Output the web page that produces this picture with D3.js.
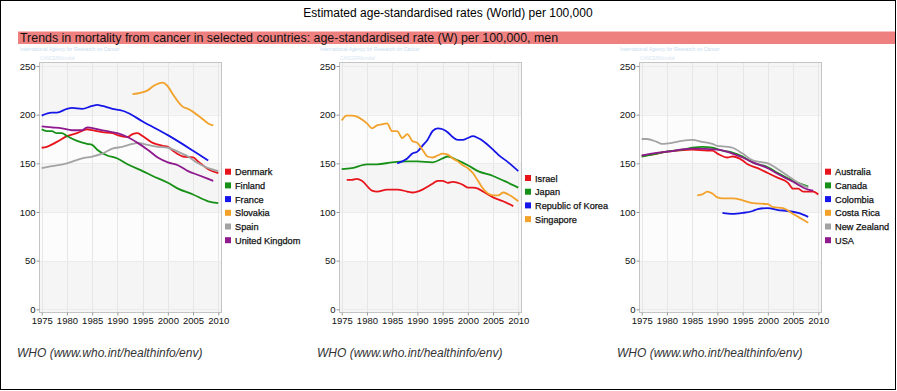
<!DOCTYPE html>
<html>
<head>
<meta charset="utf-8">
<script src="https://cdn.jsdelivr.net/npm/d3@7"></script>
<style>
  body { margin: 0; background: #fff; }
  text { font-family: "Liberation Sans", Arial, sans-serif; }
</style>
</head>
<body>
<script>

// values, [year, rate]
let yearTicks = [1975, 1980, 1985, 1990, 1995, 2000, 2005, 2010];
let rateTicks = [0, 50, 100, 150, 200, 250];

let denmark = [[1975,166],[1976,167],[1978,172],[1980,178],[1982,181],[1984,185],[1985,184],[1987,182],[1989,181],[1990,179],[1992,177],[1993,180],[1994,181],[1995,178],[1997,171],[1999,168],[2000,167],[2001,163],[2003,157],[2005,156],[2006,152],[2008,144],[2010,140]];
let finland = [[1975,185],[1976,183],[1977,183],[1978,181],[1979,181],[1980,178],[1982,173],[1984,170],[1985,169],[1986,164],[1988,158],[1990,155],[1992,149],[1995,142],[1997,137],[2000,130],[2002,124],[2005,118],[2008,111],[2010,109]];
let france = [[1975,199],[1977,202],[1978,202],[1980,206],[1981,207],[1983,206],[1985,209],[1986,210],[1987,209],[1989,206],[1991,204],[1992,202],[1995,193],[2000,179],[2005,163],[2008,153]];
let slovakia = [[1993,221],[1996,225],[1997,229],[1999,233],[2000,229],[2001,221],[2003,208],[2004,206],[2007,195],[2008,191],[2009,189]];
let spain = [[1975,145],[1977,147],[1980,150],[1983,155],[1985,157],[1987,160],[1989,165],[1991,167],[1993,170],[1994,171],[1996,169],[1998,167],[2000,166],[2002,162],[2004,157],[2006,150],[2008,145],[2010,142]];
let uk = [[1975,188],[1977,187],[1979,186],[1981,184],[1983,184],[1984,187],[1986,185],[1988,183],[1990,181],[1992,177],[1994,171],[1996,164],[1998,156],[2000,151],[2002,148],[2004,142],[2006,138],[2008,134],[2009,132]];

let israel = [[1976,133],[1977,133],[1978,134],[1979,132],[1981,122],[1982,121],[1984,123],[1986,123],[1988,121],[1989,120],[1990,121],[1991,123],[1993,129],[1994,132],[1995,132],[1996,130],[1997,131],[1999,128],[2000,125],[2001,125],[2002,124],[2003,121],[2005,115],[2007,111],[2009,106]];
let japan = [[1975,144],[1977,145],[1980,149],[1982,149],[1985,151],[1988,152],[1990,152],[1993,151],[1995,155],[1996,157],[1998,153],[2000,148],[2002,142],[2005,137],[2008,130],[2010,125]];
let korea = [[1986,150],[1988,155],[1989,160],[1990,162],[1991,168],[1992,174],[1993,183],[1994,186],[1995,185],[1996,182],[1997,177],[1998,174],[1999,174],[2000,176],[2001,178],[2002,176],[2003,173],[2005,164],[2006,159],[2008,151],[2010,142]];
let singapore = [[1975,194],[1976,199],[1977,199],[1978,198],[1979,195],[1980,191],[1981,186],[1982,189],[1983,190],[1984,191],[1985,183],[1986,183],[1987,176],[1988,180],[1989,173],[1990,171],[1991,164],[1992,157],[1993,156],[1994,158],[1995,160],[1996,159],[1997,155],[1998,152],[1999,148],[2000,145],[2001,140],[2002,132],[2003,124],[2004,119],[2005,117],[2006,117],[2007,120],[2008,118],[2009,115],[2010,111]];

let australia = [[1975,158],[1977,159],[1980,162],[1982,163],[1985,164],[1988,163],[1989,163],[1990,160],[1992,156],[1993,157],[1995,153],[1996,149],[1998,145],[2000,140],[2002,135],[2004,130],[2005,124],[2006,124],[2007,121],[2008,121],[2009,121],[2010,118]];
let canada = [[1975,157],[1977,159],[1980,162],[1983,164],[1985,166],[1987,167],[1989,166],[1991,163],[1993,161],[1995,157],[1997,151],[2000,146],[2002,140],[2005,132],[2008,126]];
let colombia = [[1991,99],[1993,98],[1995,99],[1997,101],[1998,103],[2000,104],[2002,102],[2004,101],[2006,99],[2008,95]];
let costaRica = [[1986,117],[1987,118],[1988,121],[1989,119],[1990,115],[1991,114],[1993,114],[1995,112],[1997,109],[2000,108],[2001,105],[2003,104],[2005,98],[2006,95],[2008,89]];
let newZealand = [[1975,175],[1976,175],[1978,172],[1979,170],[1981,171],[1983,173],[1985,174],[1987,172],[1989,170],[1990,168],[1992,167],[1993,166],[1995,160],[1997,153],[1999,151],[2000,150],[2002,144],[2004,137],[2006,130],[2008,125]];
let usa = [[1975,158],[1977,160],[1980,162],[1985,165],[1990,164],[1993,160],[1995,156],[1997,151],[2000,145],[2002,139],[2005,131],[2008,123],[2009,122]];

let panels = [
  { names: ['Denmark', 'Finland', 'France', 'Slovakia', 'Spain', 'United Kingdom'],
    series: [denmark, finland, france, slovakia, spain, uk],
    colors: ['red', 'green', 'blue', 'orange', 'gray', 'purple'] },
  { names: ['Israel', 'Japan', 'Republic of Korea', 'Singapore'],
    series: [israel, japan, korea, singapore],
    colors: ['red', 'green', 'blue', 'orange'] },
  { names: ['Australia', 'Canada', 'Colombia', 'Costa Rica', 'New Zealand', 'USA'],
    series: [australia, canada, colombia, costaRica, newZealand, usa],
    colors: ['red', 'green', 'blue', 'orange', 'gray', 'purple'] }
];

let palette = { red: '#e8141b', green: '#169016', blue: '#1616e8', orange: '#f2a12a', gray: '#a3a3a3', purple: '#8e1a8e' };

let width = 897, height = 391;

let svg = d3.select('body').append('svg')
  .attr('width', width)
  .attr('height', height);

svg.append('rect')
  .attr('x', 0.5).attr('y', 0.5)
  .attr('width', 895).attr('height', 389)
  .attr('fill', '#fff')
  .attr('stroke', '#000');

svg.append('text')
  .attr('x', 448).attr('y', 17)
  .attr('text-anchor', 'middle')
  .attr('font-size', 12)
  .attr('fill', '#000')
  .text('Estimated age-standardised rates (World) per 100,000');

svg.append('rect')
  .attr('x', 18).attr('y', 31.5)
  .attr('width', 877).attr('height', 12.5)
  .attr('fill', '#ef8080');

svg.append('text')
  .attr('x', 20).attr('y', 42)
  .attr('font-size', 12.4)
  .attr('fill', '#111')
  .text('Trends in mortality from cancer in selected countries: age-standardised rate (W) per 100,000, men');

let x = d3.scaleLinear().domain([1975, 2010]).range([41.7, 218.3]);
let y = d3.scaleLinear().domain([0, 250]).range([309.3, 66]);

let line = d3.line()
  .x(d => x(d[0]))
  .y(d => y(d[1]))
  .curve(d3.curveMonotoneX);

panels.forEach(function (p, i) {
  let g = svg.append('g').attr('transform', 'translate(' + (i * 300) + ',0)');

  // faint IARC credit
  g.append('text')
    .attr('x', 20).attr('y', 51)
    .attr('font-size', 5)
    .attr('fill', '#c6dcf0')
    .text('International Agency for Research on Cancer');
  g.append('text')
    .attr('x', 40).attr('y', 60)
    .attr('font-size', 4.5)
    .attr('fill', '#d8e6f3')
    .text('CANCERMondial');

  // banded background
  for (let k = 0; k < 5; k++) {
    g.append('rect')
      .attr('x', 40).attr('width', 181.5)
      .attr('y', y(rateTicks[k + 1])).attr('height', y(rateTicks[k]) - y(rateTicks[k + 1]))
      .attr('fill', k % 2 === 0 ? '#f5f5f5' : '#fcfcfc');
  }
  g.append('rect').attr('x', 40).attr('width', 181.5).attr('y', 62.5).attr('height', y(250) - 62.5).attr('fill', '#f5f5f5');
  g.append('rect').attr('x', 40).attr('width', 181.5).attr('y', y(0)).attr('height', 312.5 - y(0)).attr('fill', '#f5f5f5');

  g.selectAll('.vgrid')
    .data(yearTicks)
    .enter().append('line')
    .attr('class', 'vgrid')
    .attr('x1', d => Math.round(x(d)) + 0.5).attr('x2', d => Math.round(x(d)) + 0.5)
    .attr('y1', 62.5).attr('y2', 312.5)
    .attr('stroke', '#e6e6e6');

  g.selectAll('.hgrid')
    .data(rateTicks)
    .enter().append('line')
    .attr('class', 'hgrid')
    .attr('x1', 40).attr('x2', 221.5)
    .attr('y1', d => Math.round(y(d)) + 0.5).attr('y2', d => Math.round(y(d)) + 0.5)
    .attr('stroke', '#ececec');

  g.append('rect')
    .attr('x', 39.5).attr('y', 62.5)
    .attr('width', 182).attr('height', 250)
    .attr('fill', 'none')
    .attr('stroke', '#c4c4c4');

  // axes
  let yAxis = g.append('g')
    .attr('transform', 'translate(39.5,0)')
    .call(d3.axisLeft(y).tickValues(rateTicks).tickSize(3).tickPadding(1));
  let xAxis = g.append('g')
    .attr('transform', 'translate(0,312.5)')
    .call(d3.axisBottom(x).tickValues(yearTicks).tickFormat(d3.format('d')).tickSize(3).tickPadding(2));
  [yAxis, xAxis].forEach(function (a) {
    a.select('.domain').remove();
    a.selectAll('line').attr('stroke', '#999');
    a.selectAll('text')
      .attr('font-family', '"Liberation Sans", Arial, sans-serif')
      .attr('font-size', 9.5)
      .attr('fill', '#111');
  });

  // lines
  g.selectAll('.series')
    .data(p.series)
    .enter().append('path')
    .attr('class', 'series')
    .attr('d', line)
    .attr('fill', 'none')
    .attr('stroke', (d, j) => palette[p.colors[j]])
    .attr('stroke-width', 1.8)
    .attr('stroke-linejoin', 'round');

  // legend
  let top = p.names.length === 6 ? 171.7 : 178;
  let leg = g.selectAll('.leg')
    .data(p.names)
    .enter().append('g')
    .attr('class', 'leg')
    .attr('transform', (d, j) => 'translate(225,' + (top + j * 13.7) + ')');
  leg.append('rect')
    .attr('x', 0).attr('y', -3)
    .attr('width', 6).attr('height', 6)
    .attr('fill', (d, j) => palette[p.colors[j]]);
  leg.append('text')
    .attr('x', 10).attr('y', 3.5)
    .attr('font-size', 9.2)
    .attr('fill', '#111')
    .attr('stroke', '#111')
    .attr('stroke-width', 0.25)
    .text(d => d);

  g.append('text')
    .attr('x', 17).attr('y', 357)
    .attr('font-size', 12)
    .attr('font-style', 'italic')
    .attr('fill', '#333')
    .text('WHO (www.who.int/healthinfo/env)');
});

</script>
</body>
</html>
